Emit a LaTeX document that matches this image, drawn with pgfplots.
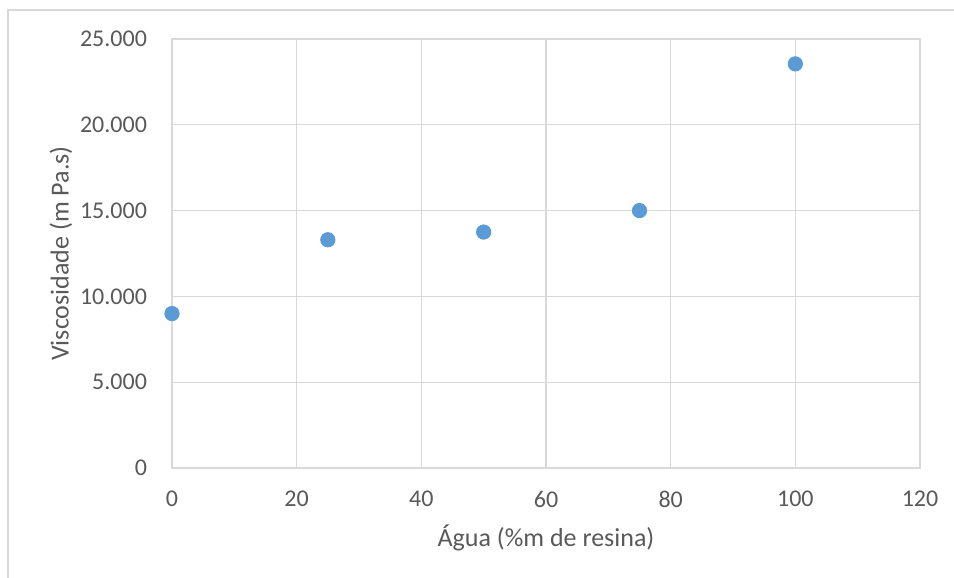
\documentclass[border=0pt]{standalone}
\usepackage{pgfplots}
\pgfplotsset{compat=1.18}
\usepackage{fontspec}
\setmainfont{Carlito}
\definecolor{gridc}{HTML}{D9D9D9}
\definecolor{txt}{HTML}{595959}
\definecolor{pt}{HTML}{5B9BD5}
\begin{document}
\begin{tikzpicture}
\useasboundingbox (-86pt,-55pt) rectangle (391pt,234pt);
\draw[gridc, line width=0.8pt] (-82pt,-56pt) -- (-82pt,229pt) -- (392pt,229pt);
\begin{axis}[
  at={(0,0)}, anchor=south west,
  scale only axis, width=374pt, height=214.5pt,
  xmin=0, xmax=120, ymin=0, ymax=25000,
  xtick={0,20,...,120}, ytick={0,5000,...,25000},
  scaled ticks=false,
  /pgf/number format/.cd, fixed, 1000 sep={.}, assume math mode=true, /pgfplots/.cd,
  grid=major, major grid style={gridc, line width=0.6pt},
  axis line style={gridc, line width=0.8pt},
  tick style={draw=none},
  ticklabel style={font=\fontsize{12}{14}\selectfont, text=txt},
  xticklabel style={yshift=-8pt},
  yticklabel style={xshift=-9pt},
  every axis x label/.style={at={(axis description cs:0.5,0)}, anchor=center, yshift=-35pt},
  every axis y label/.style={at={(axis description cs:0,0.5)}, anchor=center, xshift=-55.5pt, rotate=90},
  xlabel={Água (\%m de resina)},
  ylabel={Viscosidade (m Pa.s)},
  label style={font=\fontsize{13}{15}\selectfont, text=txt},
  clip=false,
]
\addplot[only marks, mark=*, mark size=3.6pt, mark options={fill=pt, draw=pt}]
  coordinates {(0,9000) (25,13300) (50,13750) (75,15000) (100,23550)};
\end{axis}
\end{tikzpicture}
\end{document}
